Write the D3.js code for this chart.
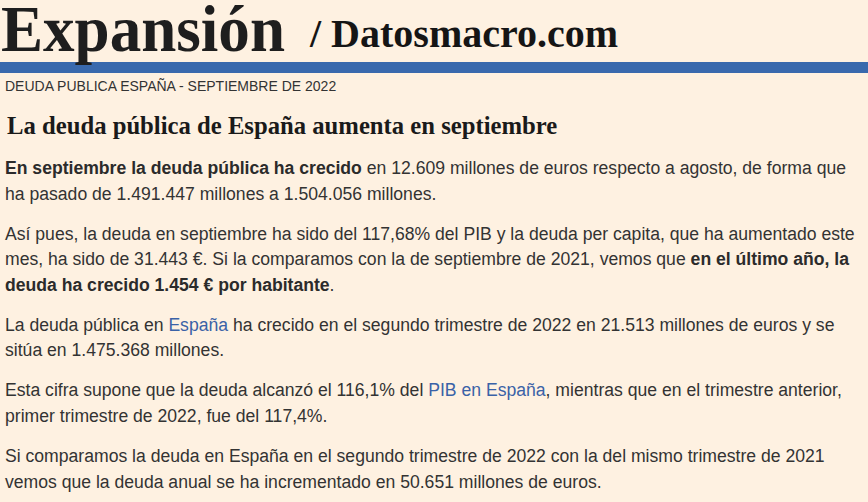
<!DOCTYPE html>
<html>
  <head>
    <title>Deuda pública España</title>
    <meta charset="utf-8">
    <script src="https://d3js.org/d3.v7.min.js"></script>
    <style>
      body { margin: 0; background: #fef1e1; }
      svg text { white-space: pre; }
    </style>
  </head>
  <body>
  <div id="svgcontainer"></div>
  <script>
    var width = 868,
        height = 502;

    // textos de la página
    var logo = "Expansión";
    var site = "/ Datosmacro.com";
    var kicker = "DEUDA PUBLICA ESPAÑA - SEPTIEMBRE DE 2022";
    var headline = "La deuda pública de España aumenta en septiembre";

    // cada párrafo: líneas, cada línea: segmentos [estilo, texto]  (n normal, b negrita, a enlace)
    var p1 = [
      [["b", "En septiembre la deuda pública ha crecido"], ["n", " en 12.609 millones de euros respecto a agosto, de forma que"]],
      [["n", "ha pasado de 1.491.447 millones a 1.504.056 millones."]]
    ];
    var p2 = [
      [["n", "Así pues, la deuda en septiembre ha sido del 117,68% del PIB y la deuda per capita, que ha aumentado este"]],
      [["n", "mes, ha sido de 31.443 €. Si la comparamos con la de septiembre de 2021, vemos que "], ["b", "en el último año, la"]],
      [["b", "deuda ha crecido 1.454 € por habitante"], ["n", "."]]
    ];
    var p3 = [
      [["n", "La deuda pública en "], ["a", "España"], ["n", " ha crecido en el segundo trimestre de 2022 en 21.513 millones de euros y se"]],
      [["n", "sitúa en 1.475.368 millones."]]
    ];
    var p4 = [
      [["n", "Esta cifra supone que la deuda alcanzó el 116,1% del "], ["a", "PIB en España"], ["n", ", mientras que en el trimestre anterior,"]],
      [["n", "primer trimestre de 2022, fue del 117,4%."]]
    ];
    var p5 = [
      [["n", "Si comparamos la deuda en España en el segundo trimestre de 2022 con la del mismo trimestre de 2021"]],
      [["n", "vemos que la deuda anual se ha incrementado en 50.651 millones de euros."]]
    ];
    var paragraphs = [p1, p2, p3, p4, p5];

    var colors = { n: "#333333", b: "#2b2b2b", a: "#3a62a7" };

    var c = d3.select("#svgcontainer")
      .append("svg")
      .attr("width", width)
      .attr("height", height);

    c.append("rect")
      .attr("width", width).attr("height", height)
      .attr("fill", "#fef1e1");

    // barra azul
    c.append("rect")
      .attr("x", 0).attr("y", 62)
      .attr("width", width).attr("height", 11)
      .attr("fill", "#3969ad");

    c.append("text")
      .attr("x", 1).attr("y", 51)
      .attr("font-family", "Liberation Serif, Times New Roman, serif")
      .attr("font-size", 66)
      .attr("font-weight", "bold")
      .attr("fill", "#1e1e1e")
      .attr("textLength", 284)
      .attr("lengthAdjust", "spacingAndGlyphs")
      .text(logo);

    c.append("text")
      .attr("x", 310).attr("y", 47)
      .attr("font-family", "Liberation Serif, Times New Roman, serif")
      .attr("font-size", 40)
      .attr("font-weight", "bold")
      .attr("fill", "#151515")
      .text(site);

    c.append("text")
      .attr("x", 5).attr("y", 91)
      .attr("font-family", "Liberation Sans, Arial, sans-serif")
      .attr("font-size", 14)
      .attr("fill", "#333333")
      .text(kicker);

    c.append("text")
      .attr("x", 7).attr("y", 134)
      .attr("font-family", "Liberation Serif, Times New Roman, serif")
      .attr("font-size", 24.7)
      .attr("font-weight", "bold")
      .attr("fill", "#1a1a1a")
      .text(headline);

    // posición vertical de cada línea
    var lineH = 25.6, gap = 14.4;
    var lines = [];
    var y0 = 174;
    paragraphs.forEach(function(p, i) {
      p.forEach(function(l) { lines.push({ y: y0, segs: l }); y0 += lineH; });
      y0 += gap;
    });

    var t = c.selectAll("text.body")
      .data(lines)
      .enter()
      .append("text")
      .attr("class", "body")
      .attr("x", 5)
      .attr("y", function(d) { return d.y; })
      .attr("font-family", "Liberation Sans, Arial, sans-serif")
      .attr("font-size", 17.6);

    t.selectAll("tspan")
      .data(function(d) { return d.segs; })
      .enter()
      .append("tspan")
      .attr("font-weight", function(d) { return d[0] == "b" ? "bold" : "normal"; })
      .attr("fill", function(d) { return colors[d[0]]; })
      .text(function(d) { return d[1]; });
  </script>
  </body>
</html>
